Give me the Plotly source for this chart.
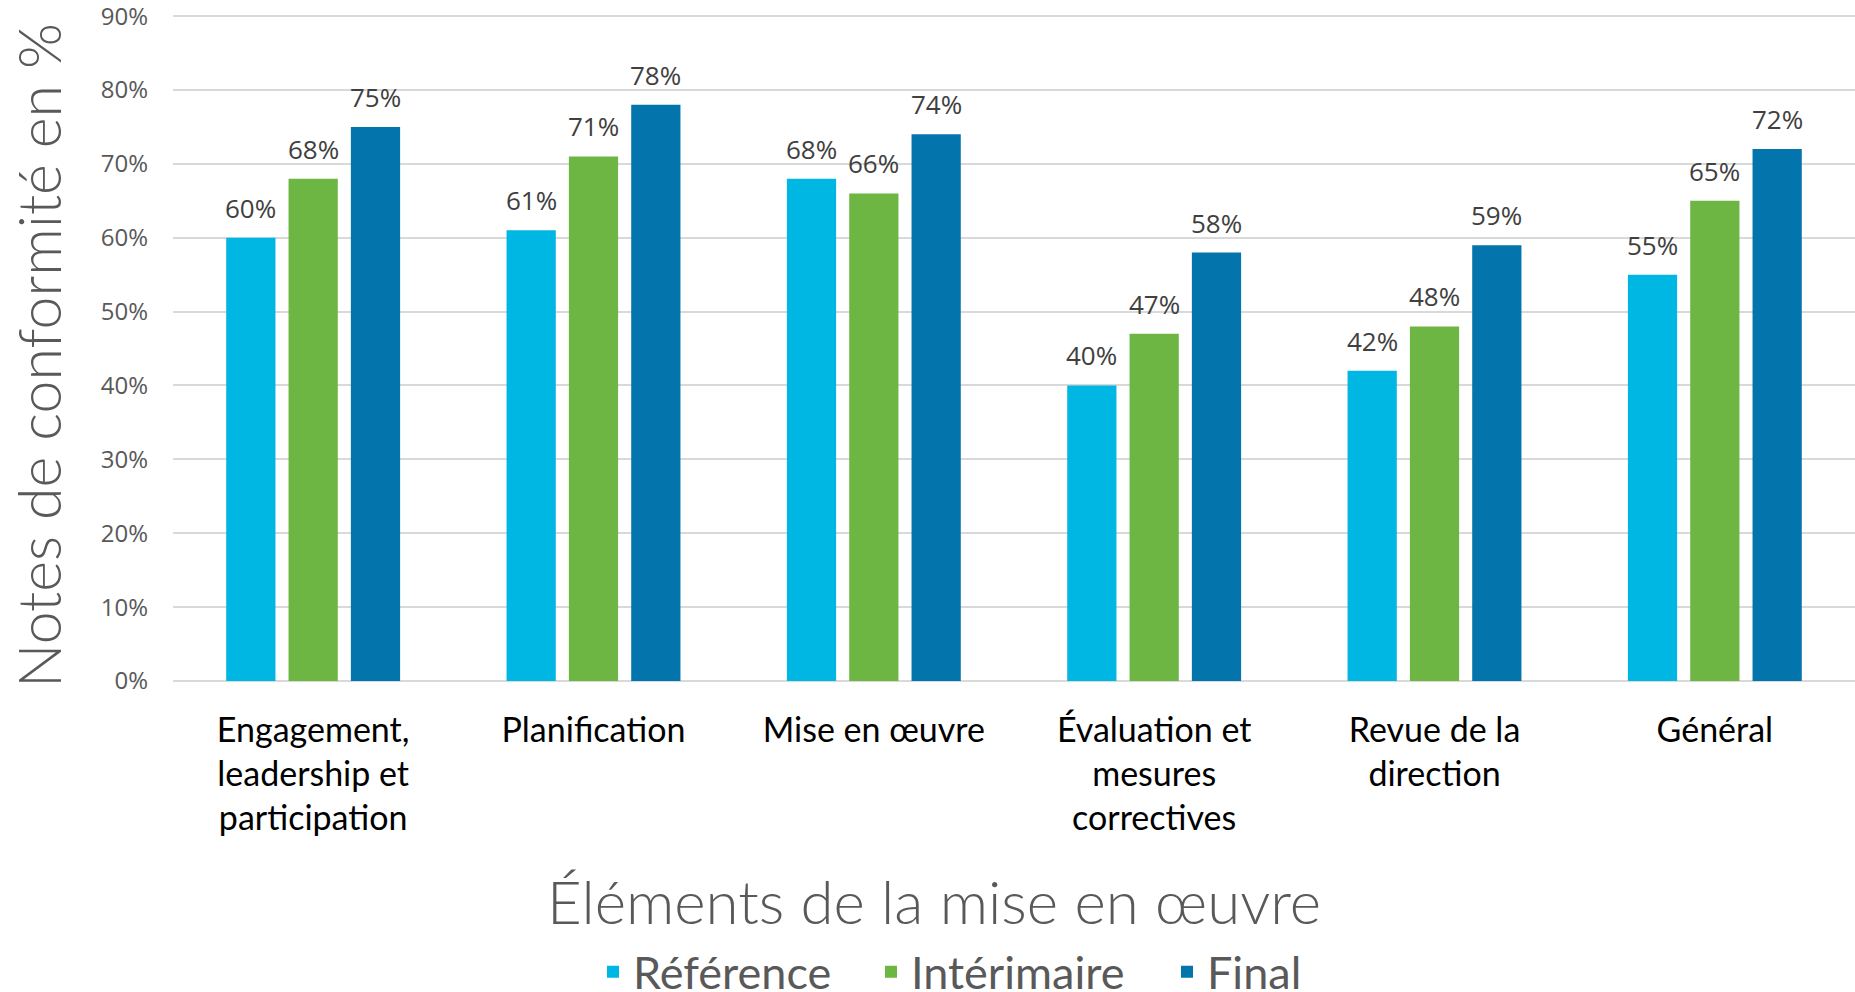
import plotly.graph_objects as go

categories = [
    "Engagement,<br>leadership et<br>participation",
    "Planification",
    "Mise en œuvre",
    "Évaluation et<br>mesures<br>correctives",
    "Revue de la<br>direction",
    "Général",
]
series_names = ["Référence", "Intérimaire", "Final"]
reference = [60, 61, 68, 40, 42, 55]
interimaire = [68, 71, 66, 47, 48, 65]
final = [75, 78, 74, 58, 59, 72]
colors = ["#00B6E2", "#6DB644", "#0474AD"]
y_ticks = [0, 10, 20, 30, 40, 50, 60, 70, 80, 90]

values = [reference, interimaire, final]
legend_ids = ["legend", "legend2", "legend3"]
legend_x_px = [593, 871, 1167]

fig = go.Figure()
for name, vals, col, lg in zip(series_names, values, colors, legend_ids):
    fig.add_trace(go.Bar(
        name=name, x=categories, y=vals, marker=dict(color=col, line=dict(width=0)),
        hoverinfo="x+y+name", legend=lg,
    ))

# data labels
slot_px = 62.3
for i, vals in enumerate(values):
    for c, v in zip(categories, vals):
        fig.add_annotation(
            x=c, y=v, text=f"{v}%", showarrow=False, xref="x", yref="y",
            xshift=(i - 1) * slot_px, yshift=30, yanchor="middle",
            font=dict(family="Open Sans", size=26, color="#404040"),
        )

# axis titles
fig.add_annotation(
    text="Éléments de la mise en œuvre", xref="paper", yref="paper",
    x=0.4524, y=-0.330, xanchor="center", yanchor="middle", showarrow=False,
    font=dict(family="Lato", size=60, color="#595959", weight=300),
)
fig.add_annotation(
    text="Notes de conformité en %", xref="paper", yref="paper",
    x=-0.0797, y=0.4895, xanchor="center", yanchor="middle", showarrow=False,
    textangle=-90,
    font=dict(family="Lato", size=59, color="#595959", weight=300),
)

W, H = 1855, 992
legend_common = dict(
    orientation="h", xref="container", yref="container", xanchor="left",
    y=1 - 972 / H, yanchor="middle",
    font=dict(family="Lato", size=45, color="#595959"),
    itemwidth=30, itemclick=False, bgcolor="rgba(0,0,0,0)",
)

fig.update_layout(
    width=W, height=H,
    margin=dict(l=173, r=0, t=15, b=311, autoexpand=False),
    paper_bgcolor="white", plot_bgcolor="white",
    barmode="group", bargap=0.333, bargroupgap=0.21,
    showlegend=True,
    legend=dict(x=legend_x_px[0] / W, **legend_common),
    legend2=dict(x=legend_x_px[1] / W, **legend_common),
    legend3=dict(x=legend_x_px[2] / W, **legend_common),
    xaxis=dict(
        tickfont=dict(family="Lato", size=34, color="#000000"),
        ticklabelstandoff=26,
        showgrid=False, showline=False, ticks="", automargin=False,
    ),
    yaxis=dict(
        range=[0, 90.15], tickvals=y_ticks, ticktext=[f"{t}%" for t in y_ticks],
        tickfont=dict(family="Open Sans", size=24, color="#595959"),
        ticklabelstandoff=24, ticklabeloverflow="allow",
        showgrid=True, gridcolor="#D9D9D9", gridwidth=1.5,
        zeroline=True, zerolinecolor="#D9D9D9", zerolinewidth=1.5,
        showline=False, ticks="", automargin=False,
    ),
)

fig.write_html("out.html", config={"displayModeBar": False},
               post_script="document.body.style.margin='0';")
